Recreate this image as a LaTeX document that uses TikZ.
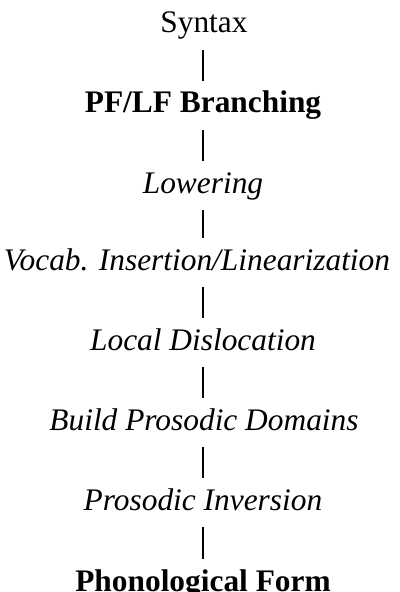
\documentclass[tikz,border=0pt]{standalone}
\usepackage{fontspec}
\setmainfont{Liberation Serif}
\begin{document}
\begin{tikzpicture}[x=1bp,y=-1bp,
  lbl/.style={anchor=base,inner sep=0pt,font=\fontsize{31.5}{36}\selectfont},
  bar/.style={line width=1.3bp}]
\useasboundingbox (0,0) rectangle (399,592);
\node[lbl] (s) at (204,33) {Syntax};
\node[lbl,font=\fontsize{31.5}{36}\selectfont\bfseries] (pf) at (203,113) {PF/LF Branching};
\node[lbl,font=\fontsize{31.5}{36}\selectfont\itshape] (lo) at (203,193) {Lowering};
\node[lbl,font=\fontsize{31.5}{36}\selectfont\itshape] (vi) at (197,270) {Vocab. Insertion/Linearization};
\node[lbl,font=\fontsize{31.5}{36}\selectfont\itshape] (ld) at (203,350) {Local Dislocation};
\node[lbl,font=\fontsize{31.5}{36}\selectfont\itshape] (bp) at (204,430) {Build Prosodic Domains};
\node[lbl,font=\fontsize{31.5}{36}\selectfont\itshape] (pi) at (203,510) {Prosodic Inversion};
\node[lbl,font=\fontsize{31.5}{36}\selectfont\bfseries] (ph) at (203,591) {Phonological Form};
\foreach \a/\b in {s/pf,pf/lo,lo/vi,vi/ld,ld/bp,bp/pi,pi/ph}
  \draw[bar] ([yshift=-17bp]\a.base -| pf.base) -- ([yshift=32bp]\b.base -| pf.base);
\end{tikzpicture}
\end{document}
